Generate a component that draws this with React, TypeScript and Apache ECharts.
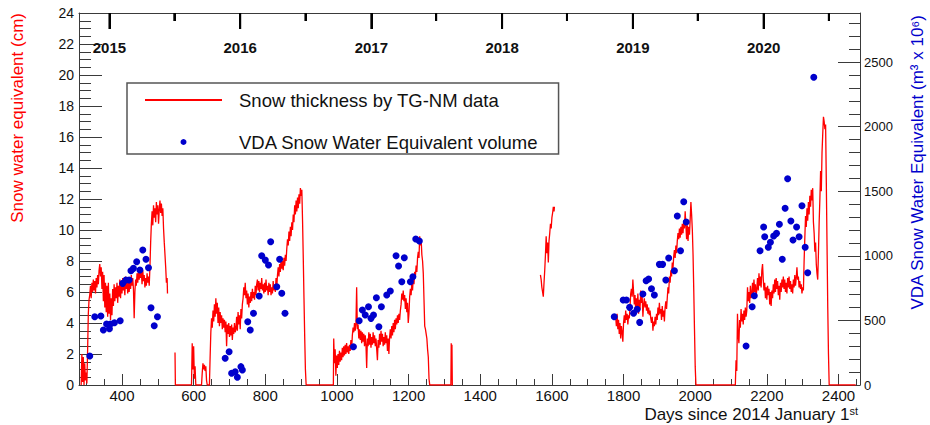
import React, { useEffect, useRef } from "react";
import * as echarts from "echarts";

// ---------- axis / tick data ----------
const xLabelDays = [400, 600, 800, 1000, 1200, 1400, 1600, 1800, 2000, 2200, 2400];
const xMinorDays = [300, 350, 450, 500, 550, 650, 700, 750, 850, 900, 950, 1050, 1100, 1150, 1250, 1300, 1350, 1450, 1500, 1550, 1650, 1700, 1750, 1850, 1900, 1950, 2050, 2100, 2150, 2250, 2300, 2350, 2450];
const yearNames = ["2015", "2016", "2017", "2018", "2019", "2020"];
const yearStartDays = [365, 730, 1096, 1461, 1826, 2191];
const midYearDays = [546, 912, 1277, 1642, 2007, 2373];
const leftMinorTicks = [0.5, 1, 1.5, 2.5, 3, 3.5, 4.5, 5, 5.5, 6.5, 7, 7.5, 8.5, 9, 9.5, 10.5, 11, 11.5, 12.5, 13, 13.5, 14.5, 15, 15.5, 16.5, 17, 17.5, 18.5, 19, 19.5, 20.5, 21, 21.5, 22.5, 23, 23.5];
const rightTicks = [0, 500, 1000, 1500, 2000, 2500];
const rightMinorTicks = [100, 200, 300, 400, 600, 700, 800, 900, 1100, 1200, 1300, 1400, 1600, 1700, 1800, 1900, 2100, 2200, 2300, 2400, 2600, 2700, 2800];

// ---------- snow thickness (cm) by season: [day, cm] ----------
const snow2015 = [[286,0],[288,2.0],[290,0.2],[292,1.8],[294,0],[296,1.4],[298,0.3],[300,0.8],[302,0.1],[304,2.2],[306,4.6],[308,5.5],[310,5.8],[312,6.4],[314,5.6],[316,6.6],[318,6.0],[320,6.8],[322,6.1],[324,6.7],[326,5.9],[328,6.9],[330,6.3],[332,7.1],[334,6.5],[336,7.4],[338,7.8],[340,7.0],[342,7.6],[344,6.2],[346,7.3],[348,5.4],[350,7.1],[352,5.0],[354,6.6],[356,4.7],[358,6.4],[360,4.4],[362,6.6],[364,4.6],[366,5.9],[368,4.2],[370,5.6],[372,4.5],[374,6.2],[376,5.1],[378,6.5],[380,5.4],[382,6.3],[384,5.6],[386,6.6],[388,5.3],[390,6.4],[392,5.7],[394,6.8],[396,5.6],[398,6.6],[400,5.9],[402,6.9],[404,6.1],[406,6.5],[408,5.8],[410,7.0],[412,6.2],[414,6.7],[416,5.9],[418,6.8],[420,6.0],[422,6.6],[424,6.2],[426,7.1],[428,6.4],[430,6.9],[432,6.2],[434,4.3],[436,6.0],[438,6.8],[440,6.4],[442,7.2],[444,6.6],[446,7.4],[448,6.8],[450,7.6],[452,6.9],[454,7.3],[456,6.5],[458,7.4],[460,6.7],[462,7.1],[464,6.3],[466,6.9],[468,6.4],[470,7.2],[472,6.6],[474,7.0],[476,6.4],[478,7.6],[480,9.2],[482,10.4],[484,11.2],[486,10.3],[488,11.6],[490,10.8],[492,11.4],[494,10.5],[496,11.8],[498,11.0],[500,11.6],[502,10.4],[504,11.3],[506,11.9],[508,11.1],[510,11.7],[512,10.9],[514,11.4],[516,10.1],[518,9.2],[520,8.4],[522,7.6],[524,6.6],[526,6.9],[527,5.9]];
const snow2016 = [[548,2.1],[549,0],[594,0],[596,2.7],[598,1.0],[600,2.5],[602,0.4],[604,1.2],[606,0],[622,0],[624,0.8],[626,1.4],[628,1.0],[630,1.3],[632,0.9],[634,1.2],[636,0.3],[638,0],[644,0],[646,1.8],[648,3.4],[650,4.3],[652,3.7],[654,4.8],[656,4.1],[658,5.2],[660,4.4],[662,5.6],[664,4.6],[666,5.3],[668,4.0],[670,5.0],[672,3.8],[674,4.7],[676,4.0],[678,4.5],[680,3.6],[682,4.3],[684,3.7],[686,4.2],[688,3.4],[690,4.1],[692,2.5],[694,3.9],[696,3.3],[698,4.0],[700,3.1],[702,3.8],[704,3.2],[706,3.9],[708,2.9],[710,3.7],[712,3.3],[714,4.0],[716,3.4],[718,3.6],[720,4.4],[722,3.5],[724,4.7],[726,3.9],[728,4.5],[730,3.6],[732,4.9],[734,4.3],[736,5.2],[738,5.6],[740,6.3],[742,5.8],[744,6.6],[746,5.6],[748,6.1],[750,5.2],[752,5.9],[754,5.0],[756,5.7],[758,5.3],[760,6.0],[762,5.4],[764,6.2],[766,5.6],[768,6.0],[770,5.5],[772,6.4],[774,5.8],[776,6.5],[778,6.8],[780,6.1],[782,6.7],[784,6.0],[786,6.6],[788,6.2],[790,6.9],[792,6.1],[794,6.5],[796,5.9],[798,6.6],[800,6.0],[802,6.8],[804,6.1],[806,6.4],[808,5.8],[810,6.6],[812,6.0],[814,6.5],[816,5.8],[818,6.3],[820,5.9],[822,6.7],[824,6.1],[826,6.5],[828,6.0],[830,6.9],[832,6.3],[834,7.1],[836,7.6],[838,7.0],[840,7.8],[842,7.3],[844,8.1],[846,7.5],[848,8.0],[850,7.4],[852,8.2],[854,7.7],[856,8.4],[858,8.0],[860,8.8],[862,9.4],[864,9.0],[866,9.9],[868,9.3],[870,10.2],[872,9.6],[874,10.5],[876,10.0],[878,11.0],[880,10.5],[882,11.6],[884,11.0],[886,11.9],[888,11.2],[890,12.1],[892,11.4],[894,12.3],[896,11.7],[898,12.7],[900,12.2],[902,12.6],[904,10.6],[906,8.2],[908,5.6],[910,3.1],[912,1.0],[914,0]];
const snow2017 = [[914,0],[990,0],[991,3.0],[993,1.4],[995,2.3],[997,0.6],[999,1.9],[1001,1.1],[1003,2.0],[1005,1.3],[1007,2.2],[1009,1.5],[1011,2.1],[1013,1.6],[1015,2.4],[1017,1.8],[1019,2.5],[1021,1.9],[1023,2.6],[1025,2.0],[1027,2.7],[1029,2.1],[1031,2.5],[1033,2.0],[1035,2.6],[1037,2.2],[1039,2.9],[1041,2.3],[1043,3.2],[1045,3.7],[1047,3.4],[1049,4.0],[1051,3.5],[1053,3.9],[1055,6.3],[1057,3.6],[1059,3.9],[1061,3.0],[1063,3.6],[1065,2.9],[1067,3.5],[1069,2.7],[1071,3.4],[1073,2.8],[1075,3.3],[1077,2.5],[1079,3.2],[1081,2.6],[1083,1.1],[1085,3.0],[1087,2.5],[1089,3.4],[1091,2.6],[1093,3.3],[1095,2.4],[1097,3.1],[1099,2.6],[1101,3.4],[1103,2.7],[1105,3.2],[1107,2.5],[1109,3.0],[1111,2.3],[1113,1.6],[1115,2.9],[1117,2.4],[1119,3.3],[1121,2.6],[1123,3.5],[1125,2.8],[1127,3.3],[1129,2.5],[1131,3.1],[1133,2.6],[1135,3.4],[1137,2.7],[1139,3.2],[1141,2.2],[1143,3.0],[1145,2.0],[1147,3.1],[1149,3.6],[1151,3.0],[1153,3.8],[1155,3.2],[1157,4.0],[1159,3.4],[1161,4.2],[1163,3.6],[1165,4.3],[1167,3.9],[1169,4.5],[1171,4.0],[1173,4.6],[1175,4.2],[1177,4.8],[1179,5.2],[1181,5.9],[1183,5.5],[1185,6.1],[1187,5.4],[1189,5.8],[1191,4.9],[1193,5.6],[1195,4.7],[1197,5.3],[1199,4.0],[1201,4.6],[1203,5.7],[1205,6.2],[1207,5.8],[1209,6.6],[1211,6.1],[1213,6.9],[1215,6.5],[1217,7.3],[1219,7.0],[1221,7.7],[1223,7.3],[1225,8.2],[1227,8.6],[1229,8.2],[1231,9.6],[1233,9.0],[1235,9.4],[1237,8.4],[1239,8.0],[1241,7.2],[1243,5.5],[1245,3.8],[1247,3.6],[1249,3.3],[1251,3.0],[1253,2.3],[1255,1.8],[1257,0.4],[1259,0],[1318,0],[1319,2.7],[1320,0.3],[1321,2.6],[1322,0],[1324,0]];
const snow2018 = [[1568,7.1],[1570,6.8],[1572,6.3],[1574,6.0],[1576,5.7],[1578,6.6],[1580,7.4],[1582,8.4],[1584,9.6],[1586,8.5],[1588,9.2],[1590,7.9],[1592,9.3],[1594,9.8],[1596,10.4],[1598,10.1],[1600,10.8],[1602,11.1],[1604,11.5],[1606,11.2],[1607,11.5]];
const snow2019 = [[1778,4.4],[1780,3.8],[1782,4.6],[1784,3.6],[1786,4.2],[1788,3.3],[1790,4.0],[1792,3.0],[1794,3.8],[1796,3.4],[1798,2.8],[1800,4.0],[1802,4.5],[1804,4.0],[1806,4.8],[1808,4.2],[1810,4.6],[1812,3.9],[1814,4.5],[1816,4.3],[1818,5.0],[1820,5.9],[1822,6.2],[1824,5.7],[1826,6.8],[1828,6.0],[1830,5.2],[1832,5.8],[1834,4.8],[1836,5.6],[1838,5.0],[1840,5.9],[1842,4.6],[1844,5.5],[1846,4.9],[1848,6.1],[1850,5.3],[1852,5.7],[1854,4.4],[1856,5.2],[1858,5.6],[1860,5.0],[1862,5.4],[1864,4.8],[1866,5.2],[1868,4.6],[1870,5.0],[1872,4.5],[1874,4.8],[1876,4.3],[1878,4.0],[1880,4.4],[1882,3.5],[1884,4.1],[1886,3.8],[1888,4.4],[1890,3.9],[1892,4.6],[1894,4.2],[1896,5.0],[1898,4.5],[1900,5.3],[1902,4.6],[1904,4.9],[1906,4.2],[1908,5.1],[1910,4.4],[1912,4.8],[1914,4.1],[1916,5.0],[1918,5.4],[1920,4.9],[1922,5.6],[1924,6.3],[1926,5.9],[1928,7.0],[1930,6.6],[1932,7.4],[1934,7.0],[1936,7.9],[1938,7.5],[1940,8.3],[1942,8.7],[1944,8.2],[1946,9.0],[1948,8.5],[1950,9.3],[1952,9.8],[1954,9.4],[1956,10.1],[1958,9.5],[1960,10.2],[1962,9.7],[1964,10.4],[1966,9.8],[1968,10.6],[1970,10.1],[1972,11.2],[1974,10.3],[1976,9.4],[1978,10.3],[1980,9.3],[1982,10.2],[1984,9.7],[1986,10.7],[1988,11.8],[1990,11.0],[1992,10.0],[1994,8.4],[1996,6.1],[1998,3.6],[2000,1.2],[2002,0],[2112,0]];
const snow2020 = [[2112,0],[2114,1.6],[2116,0.9],[2118,4.6],[2120,3.2],[2122,2.7],[2124,4.2],[2126,3.7],[2128,4.9],[2130,4.1],[2132,4.6],[2134,3.9],[2136,4.8],[2138,4.2],[2140,5.0],[2142,4.4],[2144,4.8],[2146,6.3],[2148,5.4],[2150,6.0],[2152,5.3],[2154,6.4],[2156,5.6],[2158,5.9],[2160,6.6],[2162,5.8],[2164,6.8],[2166,6.0],[2168,6.5],[2170,5.7],[2172,6.2],[2174,6.9],[2176,6.1],[2178,7.2],[2180,6.4],[2182,7.0],[2184,6.3],[2186,7.4],[2188,7.8],[2190,6.8],[2192,6.1],[2194,6.6],[2196,5.6],[2198,6.3],[2200,5.5],[2202,6.4],[2204,5.8],[2206,6.2],[2208,5.2],[2210,6.0],[2212,5.1],[2214,6.1],[2216,5.6],[2218,6.5],[2220,5.9],[2222,6.8],[2224,6.0],[2226,6.9],[2228,6.2],[2230,6.7],[2232,5.8],[2234,6.4],[2236,5.5],[2238,6.6],[2240,6.0],[2242,6.8],[2244,6.3],[2246,7.0],[2248,6.2],[2250,6.8],[2252,6.0],[2254,6.6],[2256,5.9],[2258,6.9],[2260,6.3],[2262,7.0],[2264,6.2],[2266,6.7],[2268,6.0],[2270,6.5],[2272,5.9],[2274,6.8],[2276,6.3],[2278,7.1],[2280,6.4],[2282,6.9],[2284,7.6],[2286,6.8],[2288,7.0],[2290,6.3],[2292,6.7],[2294,6.2],[2296,6.5],[2298,5.9],[2300,6.3],[2302,6.1],[2304,8.0],[2306,9.5],[2308,10.9],[2310,10.2],[2312,11.4],[2314,10.6],[2316,11.8],[2318,11.0],[2320,12.2],[2322,11.5],[2324,12.6],[2326,11.9],[2328,12.7],[2330,10.5],[2332,9.8],[2334,8.6],[2336,9.2],[2338,7.8],[2340,7.2],[2342,6.8],[2344,8.5],[2346,10.5],[2348,12.0],[2350,13.8],[2352,12.5],[2354,15.0],[2356,16.2],[2358,17.3],[2360,17.0],[2362,16.5],[2364,16.8],[2366,13.0],[2368,9.0],[2370,5.0],[2372,2.0],[2374,0],[2448,0]];

// ---------- VDA snow water equivalent volume (m3 x 10^6): [day, volume] ----------
const vda2015 = [[310,224],[324,529],[341,534],[348,426],[357,472],[365,436],[368,472],[379,482],[395,498],[402,787],[411,813],[420,813],[425,885],[432,903],[441,954],[450,890],[458,1045],[467,973],[474,908],[481,598],[490,459],[499,529]];
const vda2016 = [[688,207],[699,258],[706,91],[716,103],[722,60],[732,142],[736,116],[751,490],[758,426],[767,555],[783,689],[790,1001],[800,967],[809,929],[815,1109],[832,761],[840,973],[846,710],[855,555]];
const vda2017 = [[1046,296],[1062,498],[1071,580],[1079,542],[1088,606],[1095,516],[1102,542],[1110,676],[1117,451],[1124,606],[1139,697],[1149,728],[1165,1001],[1172,921],[1181,800],[1188,985],[1205,800],[1212,838],[1220,1130],[1230,1115]];
const vda2019 = [[1774,529],[1799,658],[1808,658],[1817,601],[1828,555],[1838,586],[1845,485],[1854,704],[1863,807],[1870,820],[1878,745],[1886,697],[1900,934],[1909,934],[1918,813],[1926,983],[1942,885],[1950,1308],[1959,1040],[1968,1419],[1975,1262]];
const vda2020 = [[2142,302],[2159,606],[2165,691],[2181,1040],[2191,1223],[2194,1148],[2204,1066],[2210,1105],[2219,1153],[2227,1174],[2235,1244],[2243,973],[2251,1368],[2258,1597],[2267,1269],[2273,1122],[2283,1223],[2290,1148],[2298,1388],[2307,1066],[2314,869],[2331,2382]];

const LINE_NAME = "Snow thickness by TG-NM data";
const DOT_NAME = "VDA Snow Water Equivalent volume";
const FONT = '"Liberation Sans", Arial, Helvetica, sans-serif';
const AXIS_COLOR = "#3a3a3a";
const RED = "#ff0000";
const BLUE = "#0000cc";
const YEAR_TICK_LEN = 16;
const MIDYEAR_TICK_LEN = 8;

function joinSegments(segs: number[][][]) {
  const out: any[] = [];
  segs.forEach((s, i) => {
    if (i > 0) out.push([s[0][0] - 0.5, null]);
    s.forEach((p) => out.push(p));
  });
  return out;
}

const X_MIN = 280;
const X_MAX = 2460;
const plain = (v: number) => String(v);

function hiddenAxisBase() {
  return {
    type: "value" as const,
    axisLine: { show: false, onZero: false },
    axisLabel: { show: false },
    splitLine: { show: false },
  };
}

export default function App() {
  const ref = useRef<HTMLDivElement>(null);

  useEffect(() => {
    if (!ref.current) return;
    const chart = echarts.init(ref.current, null, { renderer: "svg" });
    const lineData = joinSegments([snow2015, snow2016, snow2017, snow2018, snow2019, snow2020]);
    const dotData = [...vda2015, ...vda2016, ...vda2017, ...vda2019, ...vda2020];
    const topTickData = [
      ...yearStartDays.map((d) => [d, YEAR_TICK_LEN]),
      ...midYearDays.map((d) => [d, MIDYEAR_TICK_LEN]),
    ];

    const option: any = {
      animation: false,
      textStyle: { fontFamily: FONT },
      grid: {
        left: 79,
        top: 13,
        right: 70,
        bottom: 40,
        containLabel: false,
        outerBoundsMode: "none",
      },
      legend: {
        orient: "vertical",
        left: 127,
        top: 83,
        padding: [7, 20, 2, 17],
        itemWidth: 77,
        itemHeight: 6,
        itemGap: 22,
        borderColor: "#555",
        borderWidth: 1.5,
        backgroundColor: "#fff",
        selectedMode: false,
        textStyle: {
          fontSize: 18.5,
          color: "#111",
          fontFamily: FONT,
          lineHeight: 20,
          padding: [0, 0, 0, 12],
        },
        data: [
          { name: LINE_NAME, itemStyle: { opacity: 0 } },
          { name: DOT_NAME, icon: "circle" },
        ],
      },
      xAxis: [
        {
          type: "value",
          position: "bottom",
          min: X_MIN,
          max: X_MAX,
          axisLine: { show: true, onZero: false, lineStyle: { color: AXIS_COLOR, width: 1 } },
          axisTick: {
            show: true,
            inside: true,
            length: 11,
            customValues: xLabelDays,
            lineStyle: { color: AXIS_COLOR },
          },
          axisLabel: {
            customValues: xLabelDays,
            fontSize: 15,
            color: "#111",
            margin: 3,
            fontFamily: FONT,
            formatter: plain,
          },
          splitLine: { show: false },
        },
        {
          ...hiddenAxisBase(),
          position: "bottom",
          min: X_MIN,
          max: X_MAX,
          axisTick: {
            show: true,
            inside: true,
            length: 6,
            customValues: xMinorDays,
            lineStyle: { color: AXIS_COLOR },
          },
        },
        {
          type: "value",
          position: "top",
          min: X_MIN,
          max: X_MAX,
          axisLine: { show: true, onZero: false, lineStyle: { color: AXIS_COLOR, width: 1 } },
          axisTick: {
            show: true,
            inside: true,
            length: YEAR_TICK_LEN,
            customValues: yearStartDays,
            lineStyle: { color: "#000", width: 2 },
          },
          axisLabel: {
            show: true,
            inside: true,
            customValues: yearStartDays,
            margin: 27,
            fontSize: 15,
            fontWeight: "bold",
            color: "#111",
            fontFamily: FONT,
            formatter: (v: number) => {
              const i = yearStartDays.indexOf(v);
              return i >= 0 ? yearNames[i] : "";
            },
          },
          splitLine: { show: false },
        },
        {
          ...hiddenAxisBase(),
          position: "top",
          min: X_MIN,
          max: X_MAX,
          axisTick: {
            show: true,
            inside: true,
            length: MIDYEAR_TICK_LEN,
            customValues: midYearDays,
            lineStyle: { color: "#000", width: 2 },
          },
        },
      ],
      yAxis: [
        {
          type: "value",
          position: "left",
          min: 0,
          max: 24,
          interval: 2,
          axisLine: { show: true, onZero: false, lineStyle: { color: AXIS_COLOR, width: 1 } },
          axisTick: { show: true, inside: true, length: 23, lineStyle: { color: AXIS_COLOR } },
          axisLabel: { fontSize: 14, color: "#111", margin: 5, fontFamily: FONT, formatter: plain },
          splitLine: { show: false },
        },
        {
          ...hiddenAxisBase(),
          position: "left",
          min: 0,
          max: 24,
          axisTick: {
            show: true,
            inside: true,
            length: 12,
            customValues: leftMinorTicks,
            lineStyle: { color: AXIS_COLOR },
          },
        },
        {
          type: "value",
          position: "right",
          min: 0,
          max: 2880,
          axisLine: { show: true, onZero: false, lineStyle: { color: AXIS_COLOR, width: 1 } },
          axisTick: {
            show: true,
            inside: true,
            length: 22,
            customValues: rightTicks,
            lineStyle: { color: AXIS_COLOR },
          },
          axisLabel: {
            customValues: rightTicks,
            fontSize: 13,
            color: "#111",
            margin: 4,
            fontFamily: FONT,
            formatter: plain,
          },
          splitLine: { show: false },
        },
        {
          ...hiddenAxisBase(),
          position: "right",
          min: 0,
          max: 2880,
          axisTick: {
            show: true,
            inside: true,
            length: 11,
            customValues: rightMinorTicks,
            lineStyle: { color: AXIS_COLOR },
          },
        },
      ],
      series: [
        {
          name: LINE_NAME,
          type: "line",
          xAxisIndex: 0,
          yAxisIndex: 0,
          data: lineData,
          showSymbol: false,
          symbol: "none",
          connectNulls: false,
          clip: true,
          lineStyle: { color: RED, width: 1.3 },
          itemStyle: { color: RED },
          z: 2,
        },
        {
          name: DOT_NAME,
          type: "scatter",
          xAxisIndex: 0,
          yAxisIndex: 2,
          data: dotData,
          symbol: "circle",
          symbolSize: 7,
          itemStyle: { color: BLUE, opacity: 1 },
          z: 3,
        },
        {
          name: "year ticks",
          type: "custom",
          coordinateSystem: "cartesian2d",
          xAxisIndex: 0,
          yAxisIndex: 0,
          silent: true,
          clip: false,
          encode: { x: 0, y: 1 },
          data: topTickData,
          renderItem: (params: any, api: any) => {
            const p = api.coord([api.value(0), 24]);
            const len = api.value(1);
            return {
              type: "line",
              shape: { x1: p[0], y1: p[1], x2: p[0], y2: p[1] + len },
              style: { stroke: "#000", lineWidth: 2 },
            };
          },
          z: 10,
        },
      ],
      graphic: [
        {
          type: "text",
          x: 17,
          y: 13,
          rotation: Math.PI / 2,
          style: {
            text: "Snow water equivalent (cm)",
            fill: RED,
            fontSize: 17,
            fontFamily: FONT,
            align: "right",
            textAlign: "right",
            verticalAlign: "middle",
            textVerticalAlign: "middle",
          },
        },
        {
          type: "text",
          x: 917,
          y: 15,
          rotation: Math.PI / 2,
          style: {
            text: "VDA Snow Water Equivalent (m³ x 10⁶)",
            fill: BLUE,
            fontSize: 17,
            fontFamily: FONT,
            align: "right",
            textAlign: "right",
            verticalAlign: "middle",
            textVerticalAlign: "middle",
          },
        },
        {
          type: "text",
          x: 858,
          y: 414,
          style: {
            text: "{a|Days since 2014 January 1}{b|st}",
            align: "right",
            textAlign: "right",
            verticalAlign: "middle",
            textVerticalAlign: "middle",
            fill: "#111",
            rich: {
              a: { fontSize: 17, fontFamily: FONT, fill: "#111", color: "#111" },
              b: { fontSize: 11, fontFamily: FONT, fill: "#111", color: "#111", verticalAlign: "top" },
            },
          },
        },
      ],
    };

    chart.setOption(option);
    return () => {
      chart.dispose();
    };
  }, []);

  return (
    <div
      ref={ref}
      style={{ position: "absolute", left: 0, top: 0, width: 930, height: 425, background: "#fff" }}
    />
  );
}
